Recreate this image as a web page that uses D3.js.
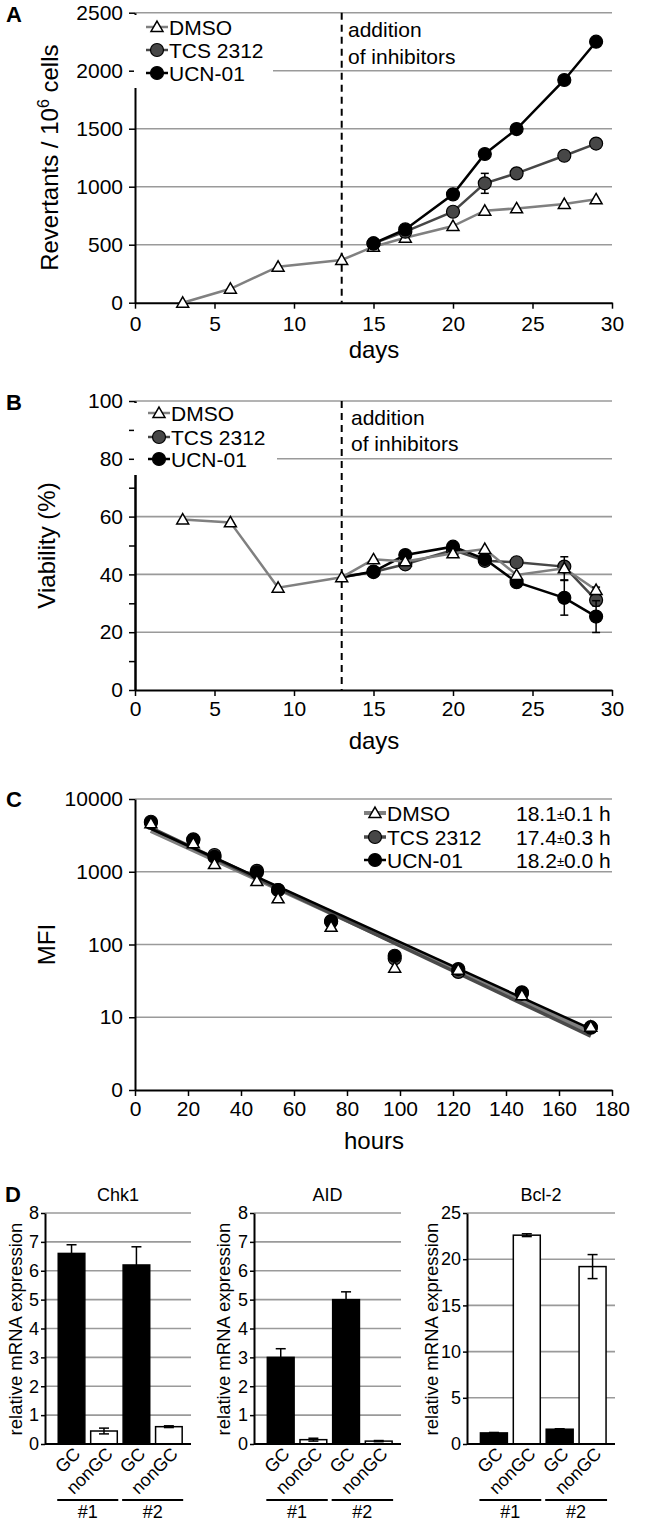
<!DOCTYPE html>
<html>
<head>
<meta charset="utf-8">
<script src="https://cdn.jsdelivr.net/npm/d3@7"></script>
<style>
body { margin: 0; background: #fff; }
svg { display: block; font-family: "Liberation Sans", Arial, Helvetica, sans-serif; }
</style>
</head>
<body>
<div id="viz"></div>
<script>
// ---- data ----
var seriesNames = ["DMSO", "TCS 2312", "UCN-01"];

// A: revertants per 10^6 cells
var daysA = [3, 6, 9, 13, 15, 17, 20, 22, 24, 27, 29];
var dmsoA = [0, 120, 310, 368, 483, 560, 661, 793, 813, 851, 891];
var daysTreatA = [15, 17, 20, 22, 24, 27, 29];
var tcsA = [511, 612, 784, 1029, 1115, 1267, 1372];
var tcsErrA = [0, 0, 0, 86, 0, 0, 0];
var ucnA = [511, 632, 934, 1282, 1497, 1920, 2250];
var yTicksA = [0, 500, 1000, 1500, 2000, 2500];

// B: viability (%)
var daysTreatB = [13, 15, 17, 20, 22, 24, 27, 29];
var dmsoB = [59.0, 58.0, 35.4, 39.0, 45.2, 44.5, 47.3, 48.8, 39.8, 42.1, 34.6];
var dmsoErrB = [0, 0, 0, 0, 0, 0, 0, 0, 0, 4, 1];
var tcsB = [39.0, 40.8, 43.5, 48.4, 44.7, 44.2, 42.7, 31.1];
var tcsErrB = [0, 0, 0, 0, 0, 0, 1.5, 2];
var ucnB = [39.0, 41.0, 46.7, 49.6, 45.3, 37.3, 31.9, 25.4];
var ucnErrB = [0, 0, 0, 0, 0, 1, 6, 5.5];
var yTicksB = [0, 20, 40, 60, 80, 100];
var yMinorB = [10, 30, 50, 70, 90];
var xTicksAB = [0, 5, 10, 15, 20, 25, 30];

// C: MFI decay
var hoursC = [6, 22, 30, 46, 54, 74, 98, 122, 146, 172];
var dmsoC = [4630, 2460, 1276, 745, 430, 175, 48, 45, 20, 7.4];
var tcsC = [4870, 2790, 1700, 1030, 560, 205, 64, 42, 21, 7.2];
var ucnC = [4700, 2700, 1600, 980, 560, 210, 70, 46, 22, 7.3];
var trendHours = [6, 172];
var dmsoTrend = [3700, 6.3];
var tcsTrend = [4000, 5.5];
var ucnTrend = [3900, 6.9];
var halfLife = ["18.1", "17.4", "18.2"];
var halfLifeErr = ["0.1", "0.3", "0.0"];
var yTicksC = [1, 10, 100, 1000, 10000];
var yTickLabelsC = ["0", "10", "100", "1000", "10000"];
var xTicksC = [0, 20, 40, 60, 80, 100, 120, 140, 160, 180];

// D: relative mRNA expression
var barCats = ["GC#1", "nonGC#1", "GC#2", "nonGC#2"];
var barLabels = ["GC", "nonGC", "GC", "nonGC"];
var groupLabels = ["#1", "#2"];
var chk1 = [6.6, 0.45, 6.2, 0.6];
var chk1Err = [0.3, 0.1, 0.63, 0.03];
var aid = [3.0, 0.15, 5.0, 0.1];
var aidErr = [0.3, 0.05, 0.27, 0.02];
var bcl2 = [1.2, 22.6, 1.6, 19.2];
var bcl2Err = [0.05, 0.15, 0.05, 1.3];

// ---- setup ----
var width = 648, height = 1523;
var gridColor = "#9a9a9a";
var colDmso = "#808080", colTcs = "#474747", colUcn = "#000";
var fmt = d3.format("d");

var svg = d3.select("#viz")
	.append("svg")
		.attr("width", width)
		.attr("height", height);
svg.append("rect").attr("width", width).attr("height", height).attr("fill", "#fff");

function styleAxis(g, fs) {
	g.attr("font-family", null).attr("font-size", null);
	g.select(".domain").attr("stroke", "#000").attr("stroke-width", 2);
	g.selectAll(".tick line").attr("stroke", "#000").attr("stroke-width", 1.5);
	g.selectAll(".tick text").attr("fill", "#000").style("font-size", fs + "px");
}

function gridY(g, y, ticks, x0, x1) {
	g.selectAll(null).data(ticks).enter().append("line")
		.attr("x1", x0).attr("x2", x1)
		.attr("y1", function (d) { return y(d); })
		.attr("y2", function (d) { return y(d); })
		.attr("stroke", gridColor).attr("stroke-width", 1.6);
}

var tri = d3.symbol().type(d3.symbolTriangle).size(62);

function marker(g, kind, cx, cy) {
	if (kind == 0) {
		g.append("path").attr("d", tri()).attr("transform", "translate(" + cx + "," + (cy + 1) + ")")
			.attr("fill", "#fff").attr("stroke", "#000").attr("stroke-width", 1.5);
	} else {
		g.append("circle").attr("cx", cx).attr("cy", cy).attr("r", 6.5)
			.attr("fill", kind == 1 ? colTcs : colUcn).attr("stroke", "#000").attr("stroke-width", 1.2);
	}
}

function errBars(g, x, y, xs, ys, errs) {
	xs.forEach(function (d, i) {
		if (!errs || !errs[i]) return;
		var px = x(d), t = y(ys[i] + errs[i]), b = y(ys[i] - errs[i]);
		g.append("line").attr("x1", px).attr("x2", px).attr("y1", t).attr("y2", b).attr("stroke", "#000").attr("stroke-width", 1.5);
		[t, b].forEach(function (py) {
			g.append("line").attr("x1", px - 4).attr("x2", px + 4).attr("y1", py).attr("y2", py).attr("stroke", "#000").attr("stroke-width", 1.5);
		});
	});
}

// skipFirst: the series leaves from the DMSO point, which keeps its triangle
function drawSeries(g, x, y, xs, ys, errs, kind, color, skipFirst) {
	var pts = xs.map(function (d, i) { return [x(d), y(ys[i])]; });
	g.append("path").attr("d", d3.line()(pts)).attr("fill", "none")
		.attr("stroke", color).attr("stroke-width", 2.5);
	errBars(g, x, y, xs, ys, errs);
	pts.forEach(function (p, i) {
		if (skipFirst && i == 0) return;
		marker(g, kind, p[0], p[1]);
	});
}

function legendRows(g, x, ys, lineCols, lineW) {
	seriesNames.forEach(function (name, i) {
		g.append("line").attr("x1", x - 11).attr("x2", x + 11).attr("y1", ys[i]).attr("y2", ys[i])
			.attr("stroke", lineCols[i]).attr("stroke-width", lineW[i]);
		marker(g, i, x, ys[i]);
		g.append("text").attr("x", x + 12).attr("y", ys[i]).attr("dy", "0.36em")
			.style("font-size", "21px").text(name);
	});
}

function panelLetter(t, x, y) {
	svg.append("text").attr("x", x).attr("y", y).style("font-size", "22px")
		.style("font-weight", "bold").text(t);
}

function yTitle(g, x, y, fs) {
	return g.append("text").attr("transform", "translate(" + x + "," + y + ") rotate(-90)")
		.attr("text-anchor", "middle").style("font-size", fs + "px");
}

// ---- panel A ----
var gA = svg.append("g");
var xA = d3.scaleLinear().domain([0, 30]).range([135, 612]);
var yA = d3.scaleLinear().domain([0, 2500]).range([302.7, 12.7]);
gridY(gA, yA, yTicksA.slice(1), 135, 612);
gA.append("g").attr("transform", "translate(135,0)")
	.call(d3.axisLeft(yA).tickValues(yTicksA).tickFormat(fmt).tickSize(6).tickPadding(6).tickSizeOuter(0))
	.call(styleAxis, 21);
gA.append("g").attr("transform", "translate(0,302.7)")
	.call(d3.axisBottom(xA).tickValues(xTicksAB).tickFormat(fmt).tickSize(6).tickPadding(7).tickSizeOuter(0))
	.call(styleAxis, 21);
gA.append("rect").attr("x", 134).attr("y", 15).attr("width", 139).attr("height", 73).attr("fill", "#fff");
gA.append("line").attr("x1", xA(13)).attr("x2", xA(13)).attr("y1", yA(2500)).attr("y2", yA(0))
	.attr("stroke", "#000").attr("stroke-width", 2).attr("stroke-dasharray", "7,5");
drawSeries(gA, xA, yA, daysA, dmsoA, null, 0, colDmso, false);
drawSeries(gA, xA, yA, daysTreatA, tcsA, tcsErrA, 1, colTcs, false);
drawSeries(gA, xA, yA, daysTreatA, ucnA, null, 2, colUcn, false);
legendRows(gA, 157, [27, 50, 73], [colDmso, colTcs, colUcn], [2.5, 2.5, 2.5]);
gA.append("text").attr("x", 348).attr("y", 37).style("font-size", "21px").text("addition");
gA.append("text").attr("x", 348).attr("y", 64).style("font-size", "21px").text("of inhibitors");
gA.append("text").attr("x", 374).attr("y", 358).attr("text-anchor", "middle").style("font-size", "24px").text("days");
var tA = yTitle(gA, 58, 157.7, 24);
tA.append("tspan").text("Revertants / 10");
tA.append("tspan").attr("dy", -9).style("font-size", "16px").text("6");
tA.append("tspan").attr("dy", 9).text(" cells");
panelLetter("A", 6, 22);

// ---- panel B ----
var gB = svg.append("g");
var xB = d3.scaleLinear().domain([0, 30]).range([135, 612]);
var yB = d3.scaleLinear().domain([0, 100]).range([690, 401]);
gridY(gB, yB, yTicksB.slice(1), 135, 612);
gB.append("g").attr("transform", "translate(135,0)")
	.call(d3.axisLeft(yB).tickValues(yMinorB).tickSize(6).tickFormat("").tickSizeOuter(0))
	.call(styleAxis, 21);
gB.append("g").attr("transform", "translate(135,0)")
	.call(d3.axisLeft(yB).tickValues(yTicksB).tickFormat(fmt).tickSize(6).tickPadding(6).tickSizeOuter(0))
	.call(styleAxis, 21);
gB.append("g").attr("transform", "translate(0,690)")
	.call(d3.axisBottom(xB).tickValues(xTicksAB).tickFormat(fmt).tickSize(6).tickPadding(5).tickSizeOuter(0))
	.call(styleAxis, 21);
gB.append("rect").attr("x", 134).attr("y", 403).attr("width", 143).attr("height", 72).attr("fill", "#fff");
gB.append("line").attr("x1", xB(13)).attr("x2", xB(13)).attr("y1", yB(100)).attr("y2", yB(0))
	.attr("stroke", "#000").attr("stroke-width", 2).attr("stroke-dasharray", "7,5");
drawSeries(gB, xB, yB, daysTreatB, tcsB, tcsErrB, 1, colTcs, true);
drawSeries(gB, xB, yB, daysTreatB, ucnB, ucnErrB, 2, colUcn, true);
drawSeries(gB, xB, yB, daysA, dmsoB, dmsoErrB, 0, colDmso, false);
legendRows(gB, 159, [413, 437, 459], [colDmso, colTcs, colUcn], [2.5, 2.5, 2.5]);
gB.append("text").attr("x", 351).attr("y", 425).style("font-size", "21px").text("addition");
gB.append("text").attr("x", 351).attr("y", 451).style("font-size", "21px").text("of inhibitors");
gB.append("text").attr("x", 374).attr("y", 749).attr("text-anchor", "middle").style("font-size", "24px").text("days");
yTitle(gB, 55, 545.5, 24).text("Viability (%)");
panelLetter("B", 6, 410);

// ---- panel C ----
var gC = svg.append("g");
var xC = d3.scaleLinear().domain([0, 180]).range([135, 612]);
var yC = d3.scaleLog().domain([1, 10000]).range([1090, 799]);
gridY(gC, yC, yTicksC.slice(1), 135, 612);
gC.append("g").attr("transform", "translate(135,0)")
	.call(d3.axisLeft(yC).tickValues(yTicksC).tickFormat(function (d, i) { return yTickLabelsC[i]; })
		.tickSize(6).tickPadding(6).tickSizeOuter(0))
	.call(styleAxis, 21);
gC.append("g").attr("transform", "translate(0,1090)")
	.call(d3.axisBottom(xC).tickValues(xTicksC).tickFormat(fmt).tickSize(6).tickPadding(5).tickSizeOuter(0))
	.call(styleAxis, 21);
var trendLine = d3.line().x(function (d) { return xC(d[0]); }).y(function (d) { return yC(d[1]); });
[[dmsoTrend, colDmso, 5], [tcsTrend, "#4a4a4a", 3.5], [ucnTrend, "#000", 2.5]].forEach(function (t) {
	var pts = trendHours.map(function (h, i) { return [h, t[0][i]]; });
	gC.append("path").attr("d", trendLine(pts)).attr("fill", "none")
		.attr("stroke", t[1]).attr("stroke-width", t[2]);
});
[[tcsC, 1], [ucnC, 2], [dmsoC, 0]].forEach(function (s) {
	hoursC.forEach(function (h, i) { marker(gC, s[1], xC(h), yC(s[0][i])); });
});
legendRows(gC, 375, [813, 837, 860], [colDmso, "#4a4a4a", "#000"], [4, 3.5, 2.5]);
halfLife.forEach(function (v, i) {
	var t = gC.append("text").attr("x", 516).attr("y", [813, 837, 860][i]).attr("dy", "0.36em").style("font-size", "21px");
	t.append("tspan").text(v);
	t.append("tspan").style("font-size", "13px").attr("dy", -2).text("±");
	t.append("tspan").attr("dy", 2).text(halfLifeErr[i] + " h");
});
gC.append("text").attr("x", 374).attr("y", 1149).attr("text-anchor", "middle").style("font-size", "24px").text("hours");
yTitle(gC, 55, 944.5, 24).text("MFI");
panelLetter("C", 6, 807);

// ---- panel D ----
function barPanel(x0, x1, title, vals, errs, ymax, ticks, labelX) {
	var g = svg.append("g");
	var y = d3.scaleLinear().domain([0, ymax]).range([1444, 1213]);
	var x = d3.scaleBand().domain(barCats).range([x0, x1]).paddingInner(0.18).paddingOuter(0.34).align(0.6);
	gridY(g, y, ticks.slice(1), x0, x1);
	g.selectAll("rect.bar").data(vals).enter().append("rect")
		.attr("class", "bar")
		.attr("x", function (d, i) { return x(barCats[i]); })
		.attr("width", x.bandwidth())
		.attr("y", function (d) { return y(d); })
		.attr("height", function (d) { return y(0) - y(d); })
		.attr("fill", function (d, i) { return i % 2 == 0 ? "#000" : "#fff"; })
		.attr("stroke", "#000").attr("stroke-width", 1.5);
	vals.forEach(function (v, i) {
		var cx = x(barCats[i]) + x.bandwidth() / 2, t = y(v + errs[i]), b = y(v - errs[i]);
		g.append("line").attr("x1", cx).attr("x2", cx).attr("y1", t).attr("y2", b).attr("stroke", "#000").attr("stroke-width", 1.5);
		[t, b].forEach(function (py) {
			g.append("line").attr("x1", cx - 5).attr("x2", cx + 5).attr("y1", py).attr("y2", py).attr("stroke", "#000").attr("stroke-width", 1.5);
		});
	});
	g.append("g").attr("transform", "translate(" + x0 + ",0)")
		.call(d3.axisLeft(y).tickValues(ticks).tickFormat(fmt).tickSize(4).tickPadding(2).tickSizeOuter(0))
		.call(styleAxis, 18);
	g.append("line").attr("x1", x0).attr("x2", x1).attr("y1", y(0)).attr("y2", y(0)).attr("stroke", "#000").attr("stroke-width", 2);
	barLabels.forEach(function (lab, i) {
		var cx = x(barCats[i]) + x.bandwidth() / 2;
		g.append("text").attr("transform", "translate(" + (cx + 10) + "," + 1455 + ") rotate(-45)")
			.attr("text-anchor", "end").style("font-size", "18px").text(lab);
	});
	groupLabels.forEach(function (lab, k) {
		var a = x(barCats[k * 2]) - 1, b = x(barCats[k * 2 + 1]) + x.bandwidth() + 1;
		g.append("line").attr("x1", a).attr("x2", b).attr("y1", 1500).attr("y2", 1500).attr("stroke", "#000").attr("stroke-width", 1.8);
		g.append("text").attr("x", (a + b) / 2).attr("y", 1518).attr("text-anchor", "middle").style("font-size", "18px").text(lab);
	});
	g.append("text").attr("x", (x0 + x1) / 2).attr("y", 1201).attr("text-anchor", "middle").style("font-size", "18px").text(title);
	yTitle(g, labelX, 1329, 18.5).text("relative mRNA expression");
}

barPanel(45, 191, "Chk1", chk1, chk1Err, 8, [0, 1, 2, 3, 4, 5, 6, 7, 8], 22);
barPanel(254, 401, "AID", aid, aidErr, 8, [0, 1, 2, 3, 4, 5, 6, 7, 8], 230);
barPanel(467, 615, "Bcl-2", bcl2, bcl2Err, 25, [0, 5, 10, 15, 20, 25], 438);
panelLetter("D", 5, 1202);
</script>
</body>
</html>
